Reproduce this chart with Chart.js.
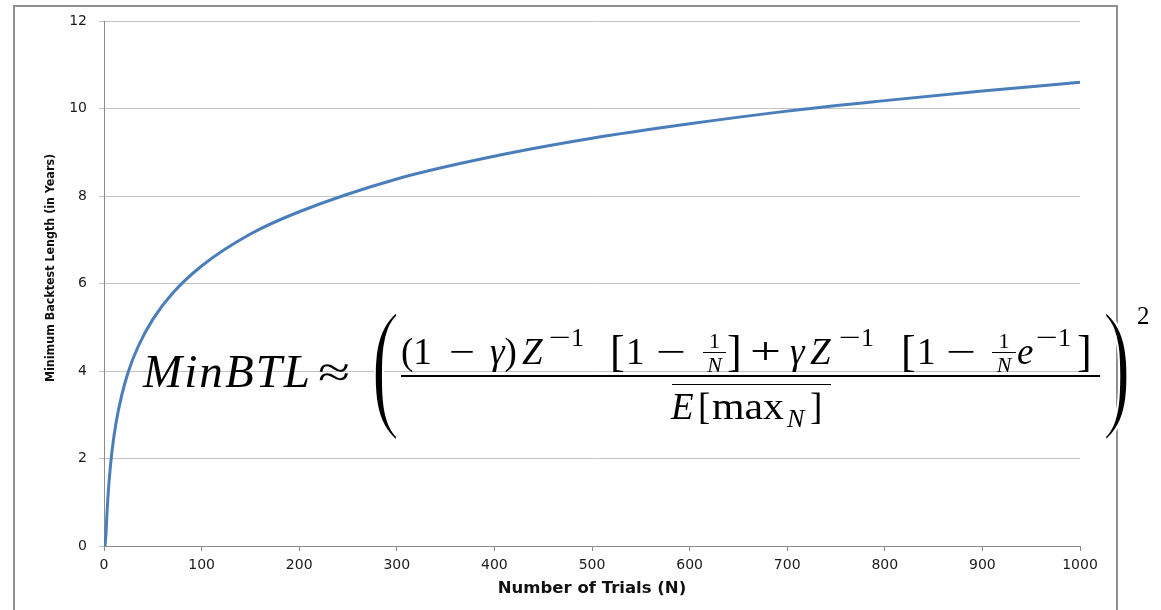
<!DOCTYPE html>
<html>
<head>
<meta charset="utf-8">
<script src="https://cdn.jsdelivr.net/npm/chart.js@4.4.1/dist/chart.umd.min.js"></script>
<style>
  html, body { margin: 0; padding: 0; background: #fff; }
  #wrap { position: relative; width: 1161px; height: 610px; overflow: hidden; }
  #frame { position: absolute; left: 13px; top: 5px; width: 1105px; height: 640px; border: 2px solid #8f8f8f; box-sizing: border-box; }
  #chart { position: absolute; left: 0; top: 0; }
  #formula { position: absolute; left: 0; top: 0; }
  .delim { stroke: #fff; stroke-width: 2.2px; }
</style>
</head>
<body>
<div id="wrap">
  <div id="frame"></div>
  <canvas id="chart" width="1161" height="610"></canvas>
  <svg id="formula" width="1161" height="610" font-family="'Liberation Serif','DejaVu Serif',serif" fill="#000">
    <text x="143" y="387" font-size="47" font-style="italic" textLength="167" lengthAdjust="spacing">MinBTL</text>
    <text x="318" y="387" font-size="44" textLength="32" lengthAdjust="spacingAndGlyphs">≈</text>
    <text class="delim" transform="translate(371,411) scale(0.86,1.45)" font-size="100">(</text>

    <!-- numerator -->
    <text x="401" y="364" font-size="37">(1</text>
    <text x="449" y="364" font-size="37" textLength="26" lengthAdjust="spacingAndGlyphs">−</text>
    <text x="490" y="364" font-size="37"><tspan font-style="italic">γ</tspan>)</text>
    <text x="522" y="364" font-size="37" font-style="italic">Z</text>
    <text x="549" y="346" font-size="26" textLength="22" lengthAdjust="spacingAndGlyphs">−</text>
    <text x="571" y="346" font-size="26">1</text>
    <text x="610" y="366" font-size="44">[</text>
    <text x="626" y="364" font-size="37">1</text>
    <text x="656" y="364" font-size="37" textLength="30" lengthAdjust="spacingAndGlyphs">−</text>
    <text x="714.5" y="348" font-size="22" text-anchor="middle">1</text>
    <line x1="703" x2="726" y1="352.5" y2="352.5" stroke="#000" stroke-width="1"/>
    <text x="714.5" y="372" font-size="22" font-style="italic" text-anchor="middle">N</text>
    <text x="727" y="366" font-size="44">]</text>
    <text x="750" y="364" font-size="37" textLength="31" lengthAdjust="spacingAndGlyphs">+</text>
    <text x="790" y="364" font-size="37" font-style="italic">γ</text>
    <text x="810" y="364" font-size="37" font-style="italic">Z</text>
    <text x="839" y="346" font-size="26" textLength="22" lengthAdjust="spacingAndGlyphs">−</text>
    <text x="861" y="346" font-size="26">1</text>
    <text x="901" y="366" font-size="44">[</text>
    <text x="917" y="364" font-size="37">1</text>
    <text x="946" y="364" font-size="37" textLength="30" lengthAdjust="spacingAndGlyphs">−</text>
    <text x="1004" y="348" font-size="22" text-anchor="middle">1</text>
    <line x1="992" x2="1016" y1="352.5" y2="352.5" stroke="#000" stroke-width="1"/>
    <text x="1004" y="372" font-size="22" font-style="italic" text-anchor="middle">N</text>
    <text x="1017" y="364" font-size="37" font-style="italic">e</text>
    <text x="1036" y="346" font-size="26" textLength="22" lengthAdjust="spacingAndGlyphs">−</text>
    <text x="1058" y="346" font-size="26">1</text>
    <text x="1077" y="366" font-size="44">]</text>

    <line x1="401" x2="1100" y1="376" y2="376" stroke="#000" stroke-width="2"/>

    <!-- denominator -->
    <line x1="672" x2="831" y1="384.5" y2="384.5" stroke="#000" stroke-width="1.2"/>
    <text x="671" y="419" font-size="37" font-style="italic">E</text>
    <text x="698" y="419" font-size="37">[</text>
    <text x="712" y="419" font-size="37" textLength="72" lengthAdjust="spacingAndGlyphs">max</text>
    <text x="787" y="427" font-size="26" font-style="italic">N</text>
    <text x="810" y="419" font-size="37">]</text>

    <text class="delim" transform="translate(1102.5,411) scale(0.86,1.45)" font-size="100">)</text>
    <text x="1137" y="324" font-size="25">2</text>
  </svg>
</div>
<script>
// values
const trialsN     = [1, 2, 3, 5, 8, 12, 18, 25, 35, 50, 70, 100, 150, 200, 300, 400, 500, 600, 700, 800, 900, 1000];
const minBtlYears = [0, 0.27, 0.73, 1.42, 2.13, 2.77, 3.43, 3.99, 4.56, 5.18, 5.77, 6.40, 7.13, 7.64, 8.39, 8.91, 9.32, 9.65, 9.94, 10.18, 10.40, 10.60];

const xTickValues = [0, 100, 200, 300, 400, 500, 600, 700, 800, 900, 1000];
const yTickValues = [0, 2, 4, 6, 8, 10, 12];

const X_TITLE = 'Number of Trials (N)';
// leading spaces nudge the rotated title up a little, like the original
const Y_TITLE = '        Minimum Backtest Length (in Years)';

const LINE_BLUE = '#4a7ebb';
const GRID_GREY = '#c3c3c3';
const AXIS_GREY = '#8c8c8c';

new Chart(document.getElementById('chart'), {
  type: 'line',
  data: {
    datasets: [{
      data: trialsN.map((n, i) => ({ x: n, y: minBtlYears[i] })),
      borderColor: LINE_BLUE,
      borderWidth: 3,
      pointRadius: 0,
      cubicInterpolationMode: 'monotone',
      fill: false,
    }]
  },
  options: {
    responsive: false,
    animation: false,
    layout: { padding: { top: 21, right: 81, bottom: 0, left: 0 } },
    plugins: { legend: { display: false }, tooltip: { enabled: false } },
    scales: {
      x: {
        type: 'linear', min: 0, max: 1000,
        afterBuildTicks: s => { s.ticks = xTickValues.map(v => ({ value: v })); },
        afterFit: s => { s.height = 64; },
        grid: { drawOnChartArea: false, drawTicks: true, tickLength: 5, color: AXIS_GREY },
        border: { color: AXIS_GREY, width: 1 },
        ticks: { font: { family: 'DejaVu Sans', size: 14 }, color: '#1a1a1a', padding: 6, maxRotation: 0, autoSkip: false,
                 callback: v => String(v) },
        title: { display: true, text: X_TITLE, color: '#111',
                 font: { family: 'DejaVu Sans', size: 16.5, weight: 'bold' }, padding: { top: 0, bottom: 11 } }
      },
      y: {
        min: 0, max: 12,
        afterBuildTicks: s => { s.ticks = yTickValues.map(v => ({ value: v })); },
        afterFit: s => { s.width = 104; },
        grid: { color: GRID_GREY, tickLength: 5 },
        border: { color: AXIS_GREY, width: 1 },
        ticks: { font: { family: 'DejaVu Sans', size: 14 }, color: '#1a1a1a', padding: 12, callback: v => String(v) },
        title: { display: true, text: Y_TITLE, color: '#111',
                 font: { family: "'Liberation Sans Narrow', 'DejaVu Sans Condensed', 'DejaVu Sans'", size: 12.4, weight: 'bold' },
                 padding: { top: 43, bottom: 0 } }
      }
    }
  }
});
</script>
</body>
</html>
